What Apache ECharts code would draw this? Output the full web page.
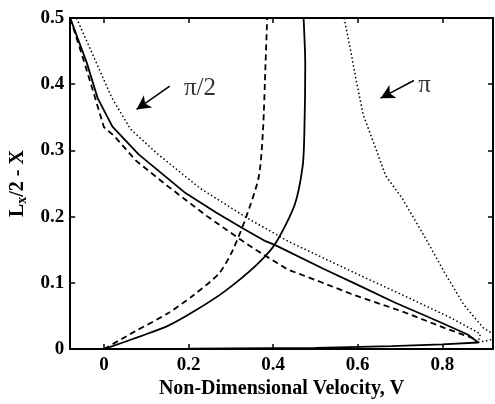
<!DOCTYPE html>
<html>
<head>
<meta charset="utf-8">
<script src="https://cdn.jsdelivr.net/npm/echarts@6/dist/echarts.min.js"></script>
<style>
  html, body { margin: 0; padding: 0; background: #fff; }
  #chart { width: 495px; height: 404px; }
</style>
</head>
<body>
<div id="chart"></div>
<script>
// velocity profiles, pairs of [V, Lx/2 - X]
const solidDown = [[-0.08, 0.5], [-0.041, 0.433], [-0.015, 0.379], [0.02, 0.336], [0.082, 0.294],
  [0.19, 0.237], [0.266, 0.206], [0.329, 0.182], [0.382, 0.163], [0.405, 0.157], [0.52, 0.121],
  [0.60, 0.097], [0.689, 0.070], [0.79, 0.042], [0.86, 0.022], [0.885, 0.010],
  [0.80, 0.007], [0.68, 0.0045], [0.5, 0.002], [0.2, 0.0005], [0, 0]]
const dashedDown = [[-0.08, 0.5], [-0.045, 0.43], [0.0, 0.335], [0.024, 0.322], [0.075, 0.285],
  [0.151, 0.246], [0.243, 0.201], [0.317, 0.168], [0.359, 0.150], [0.435, 0.12], [0.514, 0.101],
  [0.59, 0.082], [0.705, 0.057], [0.805, 0.032], [0.874, 0.016], [0.885, 0.010]]
const dottedDown = [[-0.065, 0.5], [0.019, 0.379], [0.063, 0.332], [0.128, 0.294], [0.227, 0.243],
  [0.336, 0.199], [0.435, 0.163], [0.59, 0.116], [0.705, 0.082], [0.821, 0.047], [0.89, 0.023],
  [0.885, 0.010], [0.92, 0.015]]
const solidUp = [[0, 0], [0.089, 0.02], [0.151, 0.035], [0.213, 0.057], [0.283, 0.086],
  [0.359, 0.126], [0.405, 0.159], [0.451, 0.218], [0.47, 0.277], [0.474, 0.33], [0.476, 0.43], [0.472, 0.5]]
const dashedUp = [[0, 0], [0.074, 0.027], [0.151, 0.054], [0.213, 0.082], [0.273, 0.115],
  [0.305, 0.15], [0.336, 0.199], [0.366, 0.26], [0.376, 0.33], [0.382, 0.43], [0.386, 0.5]]
const dottedPi = [[0.568, 0.5], [0.583, 0.452], [0.597, 0.404], [0.613, 0.354], [0.641, 0.306],
  [0.666, 0.262], [0.705, 0.228], [0.758, 0.170], [0.805, 0.116], [0.851, 0.067], [0.897, 0.032], [0.92, 0.023]]

const xTicks = [0, 0.2, 0.4, 0.6, 0.8]
// annotation: text position, arrow start, arrow end
const labels = [[0.227, 0.394, 'π/2'], [0.758, 0.398, 'π']]
const arrows = [[[0.1556, 0.397], [0.077, 0.362]], [[0.733, 0.4056], [0.654, 0.379]]]

const font = '"Liberation Serif", "Times New Roman", serif'
const chart = echarts.init(document.getElementById('chart'))

function curve(data, type, width, smooth) {
  return {
    type: 'line',
    data: data,
    showSymbol: false,
    symbol: 'none',
    smooth: smooth || false,
    clip: true,
    lineStyle: { color: '#000', width: width, type: type },
    animation: false
  }
}

const xBase = {
  type: 'value', min: -0.08, max: 0.92, splitNumber: 5,
  axisLine: { onZero: false, lineStyle: { color: '#000', width: 2 } },
  axisTick: { inside: true, length: 5, lineStyle: { color: '#000', width: 1.5 } },
  splitLine: { show: false }
}
const yBase = {
  type: 'value', min: 0, max: 0.5, interval: 0.1,
  axisLine: { onZero: false, lineStyle: { color: '#000', width: 2 } },
  axisTick: { inside: true, length: 5, lineStyle: { color: '#000', width: 1.5 } },
  splitLine: { show: false }
}

function xLabel(v) {
  const r = Math.round(v * 10) / 10
  return (Math.abs(v - r) < 1e-6 && xTicks.indexOf(r) >= 0) ? String(r) : ''
}

chart.setOption({
  backgroundColor: '#fff',
  animation: false,
  grid: { left: 60, right: 2, top: 18, bottom: 45 },
  xAxis: [
    Object.assign({}, xBase, {
      position: 'bottom',
      name: 'Non-Dimensional Velocity, V',
      nameLocation: 'middle',
      nameGap: 28,
      nameTextStyle: { fontFamily: font, fontWeight: 'bold', fontSize: 20, color: '#000' },
      axisLabel: {
        fontFamily: font, fontWeight: 'bold', fontSize: 19, color: '#000', margin: 6,
        showMinLabel: false, showMaxLabel: false, formatter: xLabel
      }
    }),
    Object.assign({}, xBase, { position: 'top', axisLabel: { show: false } })
  ],
  yAxis: [
    Object.assign({}, yBase, {
      position: 'left',
      name: '{a|L}{s|x}{a|/2 - X}',
      nameLocation: 'middle',
      nameRotate: 90,
      nameGap: 40,
      nameTextStyle: {
        rich: {
          a: { fontFamily: font, fontWeight: 'bold', fontSize: 20, color: '#000' },
          s: { fontFamily: font, fontWeight: 'bold', fontSize: 14, color: '#000', verticalAlign: 'bottom', padding: [9, 0, 0, 0] }
        }
      },
      axisLabel: { fontFamily: font, fontWeight: 'bold', fontSize: 19, color: '#000', margin: 6 }
    }),
    Object.assign({}, yBase, { position: 'right', axisLabel: { show: false } })
  ],
  series: [
    Object.assign(curve(solidDown, 'solid', 1.8), {
      markLine: {
        silent: true,
        symbol: ['none', 'arrow'],
        symbolSize: [11, 14],
        label: { show: false },
        lineStyle: { color: '#000', type: 'solid', width: 1.5 },
        data: arrows.map(a => [{ coord: a[0] }, { coord: a[1] }])
      }
    }),
    curve(dashedDown, [6, 4], 1.8),
    curve(dottedDown, [1.5, 2.5], 1.5),
    curve(solidUp, 'solid', 1.8, 0.25),
    curve(dashedUp, [6, 4], 1.8, 0.25),
    curve(dottedPi, [1.5, 2.5], 1.5),
    {
      type: 'scatter',
      data: labels,
      symbolSize: 0,
      silent: true,
      label: {
        show: true, position: 'inside',
        formatter: p => p.data[2],
        fontFamily: font, fontSize: 25, color: '#000'
      }
    }
  ]
})
</script>
</body>
</html>
